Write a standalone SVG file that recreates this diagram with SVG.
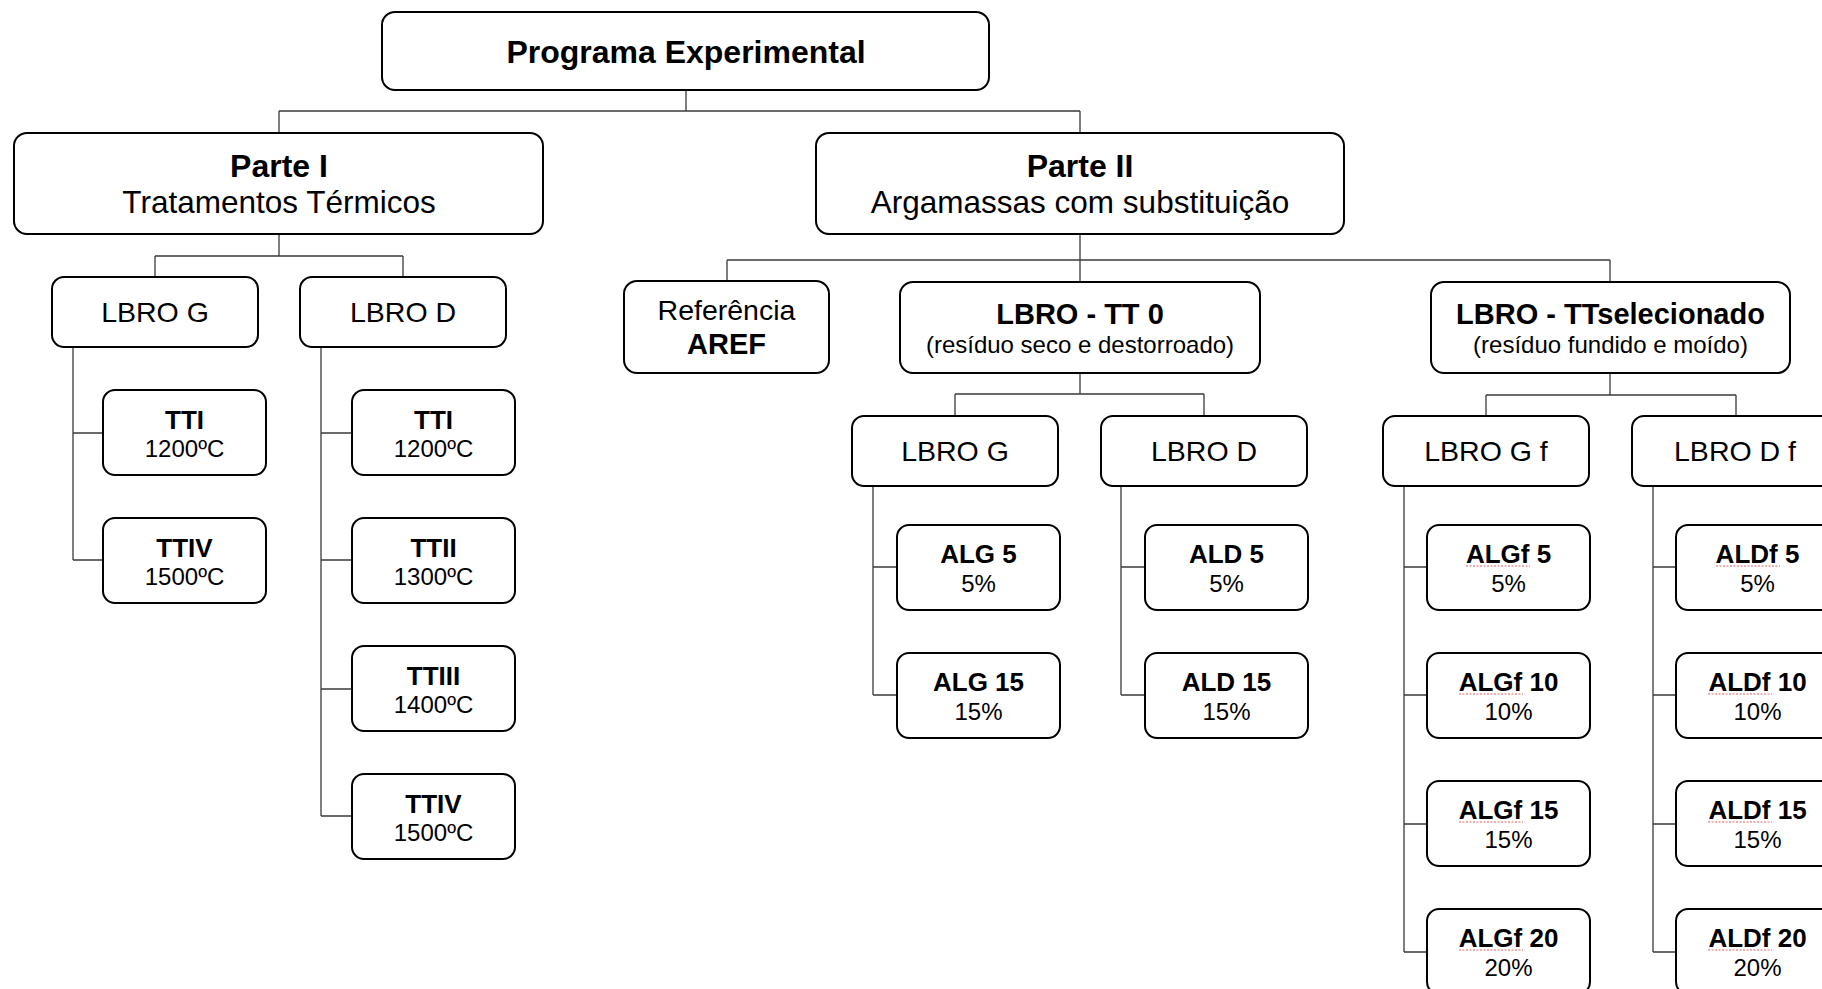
<svg xmlns="http://www.w3.org/2000/svg" width="1822" height="989" viewBox="0 0 1822 989">
  <defs>
    <style>
      .box { fill: #ffffff; stroke: #000000; stroke-width: 2; }
      .link { fill: none; stroke: #3a3a3a; stroke-width: 1.3; }
      text { font-family: "Liberation Sans", Arial, sans-serif; fill: #000000; text-anchor: middle; }
      .h1 { font-size: 32px; font-weight: bold; }
      .h1r { font-size: 31.5px; }
      .h2 { font-size: 29px; font-weight: bold; }
      .h2r { font-size: 28.5px; }
      .sub { font-size: 24px; }
      .leaf { font-size: 26px; font-weight: bold; }
      .leafr { font-size: 24px; }
      .spell { fill: none; stroke: #e06060; stroke-width: 1; stroke-dasharray: 2 1.5; }
    </style>
  </defs>

  <rect width="1822" height="989" fill="#ffffff"/>

  <!-- connectors -->
  <g id="connectors" class="link">
    <!-- root to parts -->
    <path d="M686 90 V111 M279 111 H1080 M279 111 V133 M1080 111 V133"/>
    <!-- Parte I to LBRO G / LBRO D -->
    <path d="M279 234 V256 M155 256 H403 M155 256 V277 M403 256 V277"/>
    <!-- LBRO G (Parte I) spine -->
    <path d="M73 347 V560 M73 433 H103 M73 560 H103"/>
    <!-- LBRO D (Parte I) spine -->
    <path d="M321 347 V816 M321 433 H352 M321 560 H352 M321 689 H352 M321 816 H352"/>
    <!-- Parte II to its three groups -->
    <path d="M1080 234 V260 M727 260 H1610 M727 260 V281 M1080 260 V282 M1610 260 V282"/>
    <!-- LBRO - TT 0 to LBRO G / LBRO D -->
    <path d="M1080 373 V394 M955 394 H1204 M955 394 V416 M1204 394 V416"/>
    <path d="M873 486 V695 M873 567 H897 M873 695 H897"/>
    <path d="M1121 486 V695 M1121 567 H1145 M1121 695 H1145"/>
    <!-- LBRO - TTselecionado to LBRO G f / LBRO D f -->
    <path d="M1610 373 V395 M1486 395 H1736 M1486 395 V416 M1736 395 V416"/>
    <path d="M1404 486 V952 M1404 567 H1427 M1404 695 H1427 M1404 824 H1427 M1404 952 H1427"/>
    <path d="M1653 486 V952 M1653 567 H1676 M1653 695 H1676 M1653 824 H1676 M1653 952 H1676"/>
  </g>

  <!-- root -->
  <g id="programa">
    <rect class="box" x="382" y="12" width="607" height="78" rx="13"/>
    <text class="h1" x="686" y="63">Programa Experimental</text>
  </g>

  <!-- Parte I -->
  <g id="parte1">
    <rect class="box" x="14" y="133" width="529" height="101" rx="13"/>
    <text class="h1" x="279" y="177">Parte I</text>
    <text class="h1r" x="279" y="213">Tratamentos Térmicos</text>
  </g>
  <g id="p1-lbro-g">
    <rect class="box" x="52" y="277" width="206" height="70" rx="12"/>
    <text class="h2r" x="155" y="322">LBRO G</text>
  </g>
  <g id="p1-lbro-d">
    <rect class="box" x="300" y="277" width="206" height="70" rx="12"/>
    <text class="h2r" x="403" y="322">LBRO D</text>
  </g>
  <g id="p1-g-tti">
    <rect class="box" x="103" y="390" width="163" height="85" rx="12"/>
    <text class="leaf" x="184.5" y="429">TTI</text>
    <text class="leafr" x="184.5" y="457">1200ºC</text>
  </g>
  <g id="p1-g-ttiv">
    <rect class="box" x="103" y="518" width="163" height="85" rx="12"/>
    <text class="leaf" x="184.5" y="557">TTIV</text>
    <text class="leafr" x="184.5" y="585">1500ºC</text>
  </g>
  <g id="p1-d-tti">
    <rect class="box" x="352" y="390" width="163" height="85" rx="12"/>
    <text class="leaf" x="433.5" y="429">TTI</text>
    <text class="leafr" x="433.5" y="457">1200ºC</text>
  </g>
  <g id="p1-d-ttii">
    <rect class="box" x="352" y="518" width="163" height="85" rx="12"/>
    <text class="leaf" x="433.5" y="557">TTII</text>
    <text class="leafr" x="433.5" y="585">1300ºC</text>
  </g>
  <g id="p1-d-ttiii">
    <rect class="box" x="352" y="646" width="163" height="85" rx="12"/>
    <text class="leaf" x="433.5" y="685">TTIII</text>
    <text class="leafr" x="433.5" y="713">1400ºC</text>
  </g>
  <g id="p1-d-ttiv">
    <rect class="box" x="352" y="774" width="163" height="85" rx="12"/>
    <text class="leaf" x="433.5" y="813">TTIV</text>
    <text class="leafr" x="433.5" y="841">1500ºC</text>
  </g>

  <!-- Parte II -->
  <g id="parte2">
    <rect class="box" x="816" y="133" width="528" height="101" rx="13"/>
    <text class="h1" x="1080" y="177">Parte II</text>
    <text class="h1r" x="1080" y="213">Argamassas com substituição</text>
  </g>
  <g id="referencia">
    <rect class="box" x="624" y="281" width="205" height="92" rx="13"/>
    <text class="h2r" x="726.5" y="320">Referência</text>
    <text class="h2" x="726.5" y="354">AREF</text>
  </g>
  <g id="lbro-tt0">
    <rect class="box" x="900" y="282" width="360" height="91" rx="13"/>
    <text class="h2" x="1080" y="324">LBRO - TT 0</text>
    <text class="sub" x="1080" y="353">(resíduo seco e destorroado)</text>
  </g>
  <g id="lbro-ttsel">
    <rect class="box" x="1431" y="282" width="359" height="91" rx="13"/>
    <text class="h2" x="1610.5" y="324">LBRO - TTselecionado</text>
    <text class="sub" x="1610.5" y="353">(resíduo fundido e moído)</text>
  </g>

  <g id="p2-lbro-g">
    <rect class="box" x="852" y="416" width="206" height="70" rx="12"/>
    <text class="h2r" x="955" y="461">LBRO G</text>
  </g>
  <g id="p2-lbro-d">
    <rect class="box" x="1101" y="416" width="206" height="70" rx="12"/>
    <text class="h2r" x="1204" y="461">LBRO D</text>
  </g>
  <g id="alg5">
    <rect class="box" x="897" y="525" width="163" height="85" rx="12"/>
    <text class="leaf" x="978.5" y="563">ALG 5</text>
    <text class="leafr" x="978.5" y="592">5%</text>
  </g>
  <g id="alg15">
    <rect class="box" x="897" y="653" width="163" height="85" rx="12"/>
    <text class="leaf" x="978.5" y="691">ALG 15</text>
    <text class="leafr" x="978.5" y="720">15%</text>
  </g>
  <g id="ald5">
    <rect class="box" x="1145" y="525" width="163" height="85" rx="12"/>
    <text class="leaf" x="1226.5" y="563">ALD 5</text>
    <text class="leafr" x="1226.5" y="592">5%</text>
  </g>
  <g id="ald15">
    <rect class="box" x="1145" y="653" width="163" height="85" rx="12"/>
    <text class="leaf" x="1226.5" y="691">ALD 15</text>
    <text class="leafr" x="1226.5" y="720">15%</text>
  </g>

  <g id="p2-lbro-gf">
    <rect class="box" x="1383" y="416" width="206" height="70" rx="12"/>
    <text class="h2r" x="1486" y="461">LBRO G f</text>
  </g>
  <g id="p2-lbro-df">
    <rect class="box" x="1632" y="416" width="206" height="70" rx="12"/>
    <text class="h2r" x="1735" y="461">LBRO D f</text>
  </g>

  <g id="algf5">
    <rect class="box" x="1427" y="525" width="163" height="85" rx="12"/>
    <text class="leaf" x="1508.5" y="563">ALGf 5</text>
    <text class="leafr" x="1508.5" y="592">5%</text>
    <path class="spell" d="M1466 566 H1530"/>
  </g>
  <g id="algf10">
    <rect class="box" x="1427" y="653" width="163" height="85" rx="12"/>
    <text class="leaf" x="1508.5" y="691">ALGf 10</text>
    <text class="leafr" x="1508.5" y="720">10%</text>
    <path class="spell" d="M1459 694 H1523"/>
  </g>
  <g id="algf15">
    <rect class="box" x="1427" y="781" width="163" height="85" rx="12"/>
    <text class="leaf" x="1508.5" y="819">ALGf 15</text>
    <text class="leafr" x="1508.5" y="848">15%</text>
    <path class="spell" d="M1459 822 H1523"/>
  </g>
  <g id="algf20">
    <rect class="box" x="1427" y="909" width="163" height="85" rx="12"/>
    <text class="leaf" x="1508.5" y="947">ALGf 20</text>
    <text class="leafr" x="1508.5" y="976">20%</text>
    <path class="spell" d="M1459 950 H1523"/>
  </g>

  <g id="aldf5">
    <rect class="box" x="1676" y="525" width="163" height="85" rx="12"/>
    <text class="leaf" x="1757.5" y="563">ALDf 5</text>
    <text class="leafr" x="1757.5" y="592">5%</text>
    <path class="spell" d="M1716 566 H1780"/>
  </g>
  <g id="aldf10">
    <rect class="box" x="1676" y="653" width="163" height="85" rx="12"/>
    <text class="leaf" x="1757.5" y="691">ALDf 10</text>
    <text class="leafr" x="1757.5" y="720">10%</text>
    <path class="spell" d="M1708 694 H1772"/>
  </g>
  <g id="aldf15">
    <rect class="box" x="1676" y="781" width="163" height="85" rx="12"/>
    <text class="leaf" x="1757.5" y="819">ALDf 15</text>
    <text class="leafr" x="1757.5" y="848">15%</text>
    <path class="spell" d="M1708 822 H1772"/>
  </g>
  <g id="aldf20">
    <rect class="box" x="1676" y="909" width="163" height="85" rx="12"/>
    <text class="leaf" x="1757.5" y="947">ALDf 20</text>
    <text class="leafr" x="1757.5" y="976">20%</text>
    <path class="spell" d="M1708 950 H1772"/>
  </g>
</svg>
